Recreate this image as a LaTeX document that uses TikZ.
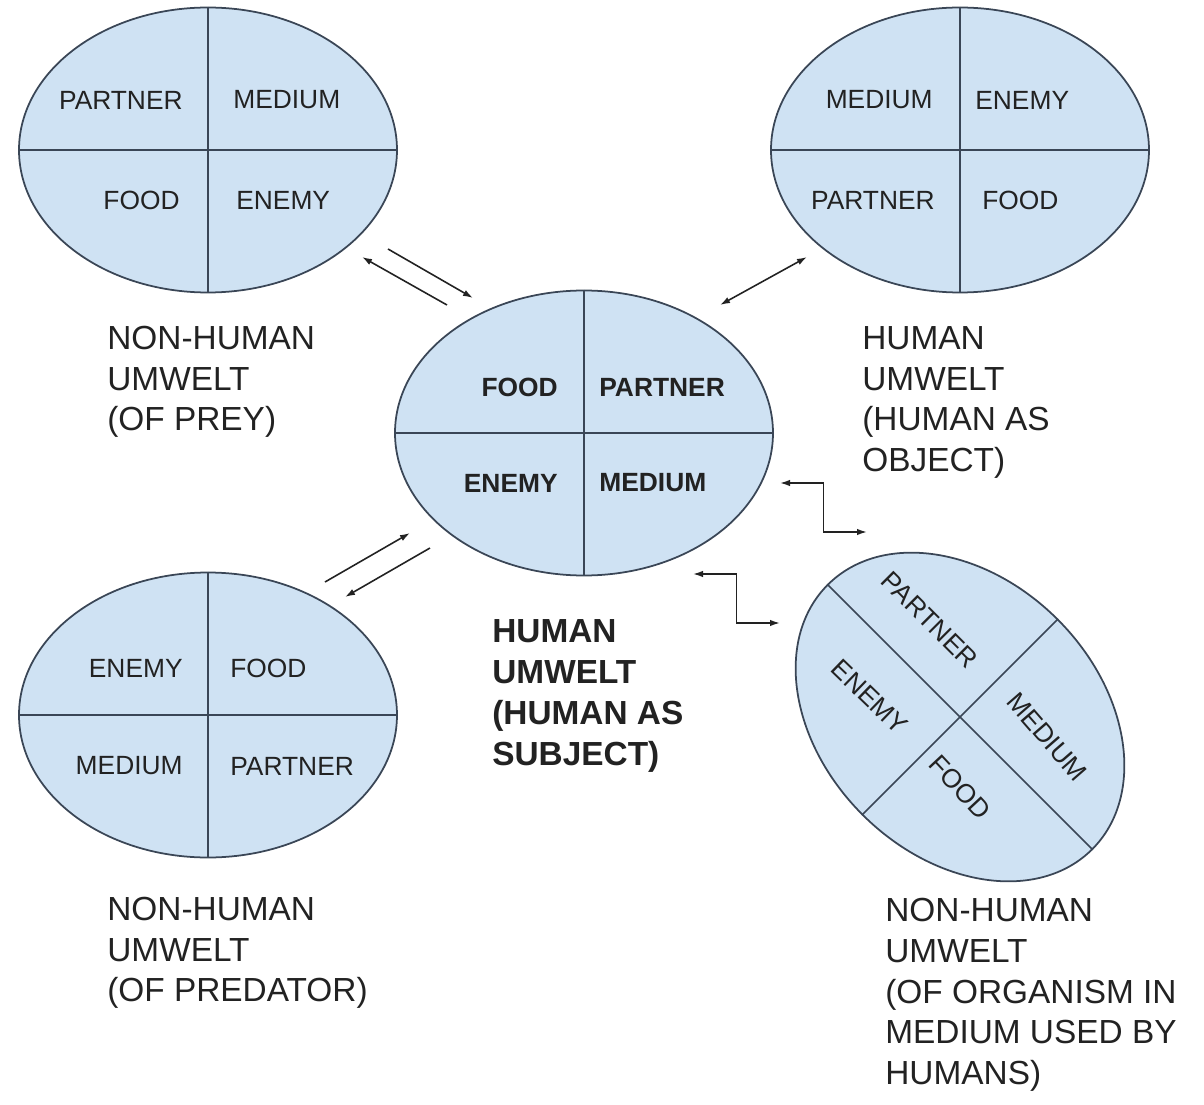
\documentclass[tikz,border=0pt]{standalone}
\usepackage{fontspec}
\setsansfont{Liberation Sans}
\usepackage{xcolor}
\usepackage{tikz}
\usetikzlibrary{positioning, arrows.meta, calc, shapes.geometric}
\definecolor{umw-fill}{HTML}{CFE2F3}
\definecolor{umw-line}{HTML}{3A4656}
\definecolor{umw-text}{HTML}{222222}

\begin{document}
\begin{tikzpicture}[
    umwelt/.style={ellipse, draw=umw-line, fill=umw-fill, line width=1pt,
                   minimum width=7.56cm, minimum height=5.7cm, inner sep=0pt},
    split/.style={umw-line, line width=0.9pt},
    qtxt/.style={font=\sffamily\fontsize{15}{18}\selectfont, text=umw-text, inner sep=0pt},
    qbold/.style={qtxt, font=\sffamily\bfseries\fontsize{15}{18}\selectfont},
    lbl/.style={font=\sffamily\fontsize{19}{23.2}\selectfont, text=umw-text,
                align=left, anchor=west, inner sep=0pt},
    arr/.style={-{Latex[length=2mm, width=1.3mm]}, line width=0.9pt, umw-text},
    biarr/.style={arr, {Latex[length=2mm, width=1.3mm]}-{Latex[length=2mm, width=1.3mm]}},
]
    \useasboundingbox (-11.68, -13.42) rectangle (12.40, 8.66);

    % Umwelten
    \node[umwelt] (prey)     at (-7.52,  5.66) {};
    \node[umwelt] (object)   at ( 7.52,  5.66) {};
    \node[umwelt] (subject)  at ( 0,     0)    {};
    \node[umwelt] (predator) at (-7.52, -5.64) {};
    \node[umwelt, rotate=-45, minimum width=7.48cm, minimum height=5.52cm] (organism) at (7.52, -5.68) {};

    % Quadrant lines
    \draw[split] (prey.north)     -- (prey.south);     \draw[split] (prey.west)     -- (prey.east);
    \draw[split] (object.north)   -- (object.south);   \draw[split] (object.west)   -- (object.east);
    \draw[split] (subject.north)  -- (subject.south);  \draw[split] (subject.west)  -- (subject.east);
    \draw[split] (predator.north) -- (predator.south); \draw[split] (predator.west) -- (predator.east);
    \draw[split] (organism.north) -- (organism.south); \draw[split] (organism.west) -- (organism.east);

    % Quadrant texts
    \node[qtxt, anchor=east] (prey-partner) at ($(prey)+(-0.5,  1)$) {PARTNER};
    \node[qtxt, anchor=west] (prey-medium)  at ($(prey)+( 0.5,  1)$) {MEDIUM};
    \node[qtxt, anchor=east] (prey-food)    at ($(prey)+(-0.56,-1)$) {FOOD};
    \node[qtxt, anchor=west] (prey-enemy)   at ($(prey)+( 0.56,-1)$) {ENEMY};

    \node[qtxt, anchor=east] (obj-medium)  at ($(object)+(-0.54, 1)$) {MEDIUM};
    \node[qtxt, anchor=west] (obj-enemy)   at ($(object)+( 0.3,  1)$) {ENEMY};
    \node[qtxt, anchor=east] (obj-partner) at ($(object)+(-0.5, -1)$) {PARTNER};
    \node[qtxt, anchor=west] (obj-food)    at ($(object)+( 0.44,-1)$) {FOOD};

    \node[qbold, anchor=east] (subj-food)    at ($(subject)+(-0.52, 0.92)$) {FOOD};
    \node[qbold, anchor=west] (subj-partner) at ($(subject)+( 0.3,  0.92)$) {PARTNER};
    \node[qbold, anchor=east] (subj-enemy)   at ($(subject)+(-0.52,-1)$)    {ENEMY};
    \node[qbold, anchor=west] (subj-medium)  at ($(subject)+( 0.3, -1)$)    {MEDIUM};

    \node[qtxt, anchor=east] (pred-enemy)   at ($(predator)+(-0.5,  0.94)$) {ENEMY};
    \node[qtxt, anchor=west] (pred-food)    at ($(predator)+( 0.44, 0.94)$) {FOOD};
    \node[qtxt, anchor=east] (pred-medium)  at ($(predator)+(-0.5, -1.02)$) {MEDIUM};
    \node[qtxt, anchor=west] (pred-partner) at ($(predator)+( 0.44,-1.02)$) {PARTNER};

    \node[qtxt, rotate=-45] (org-partner) at ($(organism)+(-0.6,  1.94)$) {PARTNER};
    \node[qtxt, rotate=-44] (org-enemy)   at ($(organism)+(-1.8,  0.40)$) {ENEMY};
    \node[qtxt, rotate=-49] (org-medium)  at ($(organism)+( 1.74,-0.40)$) {MEDIUM};
    \node[qtxt, rotate=-47] (org-food)    at ($(organism)+( 0,   -1.40)$) {FOOD};

    % Captions
    \node[lbl] (prey-lbl)     at (-9.54,   1.02) {NON-HUMAN\\UMWELT\\(OF PREY)};
    \node[lbl] (object-lbl)   at ( 5.56,   0.61) {HUMAN\\UMWELT\\(HUMAN AS\\OBJECT)};
    \node[lbl, font=\sffamily\bfseries\fontsize{19}{23.2}\selectfont]
               (subject-lbl)  at (-1.84,  -5.26) {HUMAN\\UMWELT\\(HUMAN AS\\SUBJECT)};
    \node[lbl] (predator-lbl) at (-9.54, -10.40) {NON-HUMAN\\UMWELT\\(OF PREDATOR)};
    \node[lbl] (organism-lbl) at ( 6.02, -11.24) {NON-HUMAN\\UMWELT\\(OF ORGANISM IN\\MEDIUM USED BY\\HUMANS)};

    % Arrow ends
    \coordinate (ps-a) at (-3.92,  3.68);  \coordinate (ps-b) at (-2.22,  2.70);
    \coordinate (sp-a) at (-2.74,  2.56);  \coordinate (sp-b) at (-4.44,  3.52);
    \coordinate (so-a) at ( 2.72,  2.56);  \coordinate (so-b) at ( 4.46,  3.52);
    \coordinate (sg-a) at ( 3.92, -1.00);  \coordinate (sg-b) at ( 5.66, -1.98);
    \coordinate (gs-a) at ( 2.18, -2.82);  \coordinate (gs-b) at ( 3.92, -3.80);
    \coordinate (rs-a) at (-5.18, -2.98);  \coordinate (rs-b) at (-3.48, -2.00);
    \coordinate (sr-a) at (-3.08, -2.30);  \coordinate (sr-b) at (-4.78, -3.28);

    % Arrows
    \draw[arr]   (ps-a) -- (ps-b);
    \draw[arr]   (sp-a) -- (sp-b);
    \draw[biarr] (so-a) -- (so-b);
    \draw[biarr] (sg-a) -| ($(sg-a)!0.5!(sg-b)$) |- (sg-b);
    \draw[biarr] (gs-a) -| ($(gs-a)!0.5!(gs-b)$) |- (gs-b);
    \draw[arr]   (rs-a) -- (rs-b);
    \draw[arr]   (sr-a) -- (sr-b);
\end{tikzpicture}
\end{document}
